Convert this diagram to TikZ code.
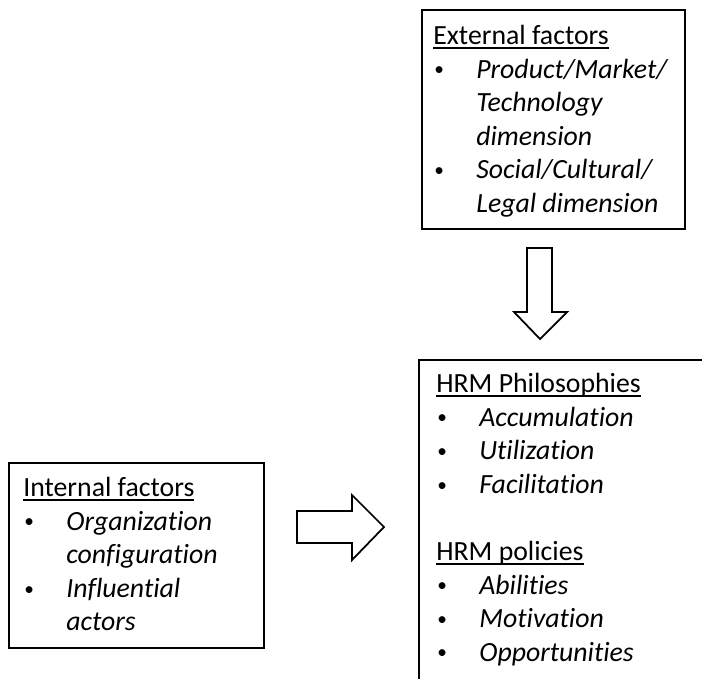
\documentclass[tikz,border=0pt]{standalone}
\usepackage{fontspec}
\setmainfont{Carlito}[Ligatures=NoCommon]
\usetikzlibrary{positioning,calc}

% underlined heading at a fixed depth, as the word processor draws it
\newcommand{\hdr}[1]{\setbox0\hbox{#1}\rlap{\rule[-2.4pt]{\wd0}{0.8pt}}\box0}
% bullet item and its continuation line
\newcommand{\dotmark}{{\fontsize{11}{11}\selectfont\raisebox{0.25ex}{\textbullet}}}
\newcommand{\itm}[1]{\makebox[0.86cm][l]{\hspace*{0.02cm}\dotmark}\textit{#1}}
\newcommand{\cont}[1]{\hspace*{0.86cm}\textit{#1}}

\tikzset{
    factorbox/.style={draw=black, line width=1pt, inner sep=0pt, anchor=north west},
    boxtext/.style={align=left, inner sep=0pt, anchor=north west, font=\fontsize{15.8}{19.1}\selectfont},
    blockarrow/.style={draw=black, line width=1pt, fill=white, line join=miter}
}

\begin{document}
\begin{tikzpicture}

    % --- FRAME ---
    \path[use as bounding box, clip] (0,0) rectangle (14.04,-13.58);

    % --- BOXES ---
    \node[factorbox, minimum width=5.26cm, minimum height=4.38cm] (external) at (8.42,-0.18) {};
    \node[factorbox, minimum width=5.10cm, minimum height=3.70cm] (internal) at (0.16,-9.24) {};
    % HRM box runs off the right and bottom edge
    \node[factorbox, minimum width=6.20cm, minimum height=6.80cm] (hrm) at (8.36,-7.18) {};

    % --- TEXTS ---
    \node[boxtext] (externaltext) at ($(external.north west)+(0.24,-0.32)$)
        {\hdr{External factors}\\
         \itm{Product/Market/}\\
         \cont{Technology}\\
         \cont{dimension}\\
         \itm{Social/Cultural/}\\
         \cont{Legal dimension}};

    \node[boxtext] (internaltext) at ($(internal.north west)+(0.30,-0.30)$)
        {\hdr{Internal factors}\\
         \itm{Organization}\\
         \cont{configuration}\\
         \itm{Influential}\\
         \cont{actors}};

    \node[boxtext] (hrmtext) at ($(hrm.north west)+(0.36,-0.28)$)
        {\hdr{HRM Philosophies}\\
         \itm{Accumulation}\\
         \itm{Utilization}\\
         \itm{Facilitation}\\[19.1pt]
         \hdr{HRM policies}\\
         \itm{Abilities}\\
         \itm{Motivation}\\
         \itm{Opportunities}};

    % --- BLOCK ARROWS ---
    % external -> hrm
    \draw[blockarrow] (10.54,-4.96) -- (11.04,-4.96) -- (11.04,-6.24) -- (11.34,-6.24)
        -- (10.80,-6.78) -- (10.28,-6.24) -- (10.54,-6.24) -- cycle;
    % internal -> hrm
    \draw[blockarrow] (5.94,-10.22) -- (7.04,-10.22) -- (7.04,-9.90) -- (7.68,-10.54)
        -- (7.04,-11.20) -- (7.04,-10.86) -- (5.94,-10.86) -- cycle;

\end{tikzpicture}
\end{document}
